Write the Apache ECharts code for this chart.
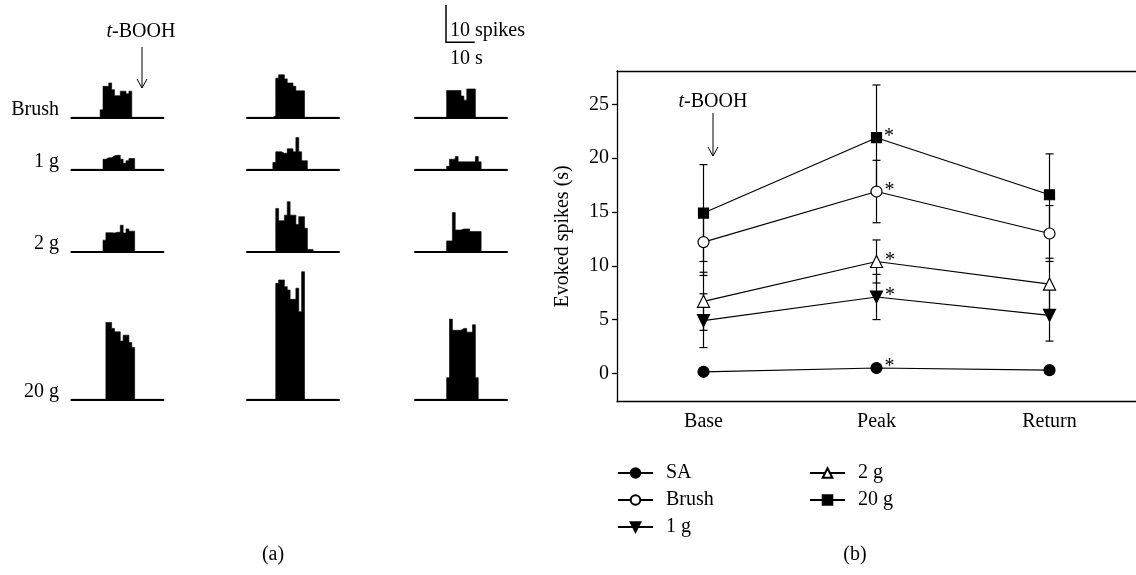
<!DOCTYPE html>
<html>
<head>
<meta charset="utf-8">
<script src="https://cdn.jsdelivr.net/npm/echarts@6/dist/echarts.min.js"></script>
<style>
html, body { margin: 0; padding: 0; background: #fff; }
#main { width: 1136px; height: 575px; }
</style>
</head>
<body>
<div id="main"></div>
<script>
// (a) spike histograms, 1 s bins over 32 s: [first bin, counts per bin]
var histRows = ['Brush', '1 g', '2 g', '20 g'];
var histBrush = [[10, [2, 8.3, 8.3, 9.2, 7.4, 5.8, 5.8, 7, 7, 6.3, 7]],
                 [9, [0.4, 10.5, 11.4, 11.4, 10.3, 9.2, 9.2, 8.3, 7.1, 7.1, 7.1]],
                 [11, [7.2, 7.2, 7.2, 7.2, 7.2, 5.7, 4.6, 7.6, 7.6, 7.6]]];
var hist1g = [[11, [2.7, 3.1, 3.1, 3.6, 3.75, 3.75, 2.7, 1.6, 2.3, 2.9, 2.9]],
              [9, [1.8, 4.7, 4.7, 4.3, 4.3, 5.5, 5.5, 4.7, 8.5, 4.7, 2.3, 2.3]],
              [11, [0.8, 2.7, 2.7, 3.4, 2.0, 2.0, 2.0, 2.0, 2.0, 2.0, 3.4, 2.0]]];
var hist2g = [[11, [3.1, 5.1, 5.1, 5.0, 5.2, 5.2, 7.1, 5.0, 6.1, 5.5, 5.5]],
              [10, [11.6, 8.3, 8.3, 9.8, 13.4, 9.8, 9.8, 7.3, 9.4, 9.4, 6.3, 0.6, 0.6]],
              [11, [2.9, 2.9, 10.5, 5.8, 5.8, 6.1, 6.1, 6.1, 5.4, 5.4, 5.4, 5.4]]];
var hist20g = [[12, [20.6, 20.6, 19, 18.1, 18.1, 15.6, 17.2, 17.2, 15.2, 13.9]],
               [10, [31.1, 32, 32, 30.2, 29.3, 26.8, 26.8, 29.8, 23.5, 34.2]],
               [11, [5.8, 21.5, 18.5, 18.5, 18.5, 19, 19, 18, 18, 20, 5.8]]];
var nBins = 32;

// (b) evoked spikes, mean and error
var phases = ['Base', 'Peak', 'Return'];
var yTicks = [0, 5, 10, 15, 20, 25];
var saMean = [0.15, 0.5, 0.3],     saErr = [0.3, 0.3, 0.3];
var brushMean = [12.2, 16.9, 13.0], brushErr = [3.1, 2.9, 2.6];
var g1Mean = [4.9, 7.1, 5.4],       g1Err = [2.5, 2.1, 2.4];
var g2Mean = [6.7, 10.4, 8.3],      g2Err = [2.7, 2.0, 2.4];
var g20Mean = [14.9, 21.9, 16.6],   g20Err = [4.5, 4.9, 3.8];

var FONT = '"Liberation Serif", "Times New Roman", serif';
var black = '#000';

// histogram layout
var rowBase = [117.3, 169.3, 251.7, 399.3];
var rowMax = [13, 10, 15, 36];
var colLeft = [71.4, 247, 415];
var histW = 92;
var pxPerSpike = 3.73;
var pxPerSec = histW / nBins;

var chart = echarts.init(document.getElementById('main'));

var grids = [{ left: 617, top: 71, right: -4, bottom: 173.3 }];
var xAxes = [
	{
		gridIndex: 0, type: 'category', data: phases,
		axisLine: { onZero: false, lineStyle: { color: black, width: 1.3 } },
		axisTick: { alignWithLabel: true, length: 5, lineStyle: { color: black, width: 1.3 } },
		axisLabel: { fontSize: 20, fontFamily: FONT, color: black, margin: 10 }
	},
	{
		gridIndex: 0, type: 'category', data: phases, position: 'top',
		axisLine: { onZero: false, lineStyle: { color: black, width: 1.3 } },
		axisTick: { show: false }, axisLabel: { show: false }
	}
];
var yAxes = [{
	gridIndex: 0, type: 'value', min: -2.63, max: 28.1,
	splitLine: { show: false },
	axisLine: { show: true, lineStyle: { color: black, width: 1.3 } },
	axisTick: { show: true, length: 5, customValues: yTicks, lineStyle: { color: black, width: 1.3 } },
	axisLabel: { customValues: yTicks, fontSize: 20, fontFamily: FONT, color: black, margin: 8 },
	name: 'Evoked spikes (s)', nameLocation: 'middle', nameGap: 44,
	nameTextStyle: { fontSize: 20, fontFamily: FONT, color: black }
}];
var series = [];
var graphics = [];

var histAll = [histBrush, hist1g, hist2g, hist20g];

histAll.forEach(function (row, r) {
	row.forEach(function (cell, c) {
		var h = rowMax[r] * pxPerSpike;
		grids.push({ left: colLeft[c], width: histW, top: rowBase[r] - h, height: h });
		var gi = grids.length - 1;
		xAxes.push({
			gridIndex: gi, type: 'value', min: 0, max: nBins,
			axisLine: { show: true, onZero: false, lineStyle: { color: black, width: 2 } },
			splitLine: { show: false }, axisTick: { show: false }, axisLabel: { show: false }
		});
		yAxes.push({ gridIndex: gi, type: 'value', min: 0, max: rowMax[r], show: false });
		// step outline: one point per bin edge
		var pts = [];
		for (var b = 0; b <= nBins; b++) {
			var k = b - cell[0];
			var v = (b < nBins && k >= 0 && k < cell[1].length) ? cell[1][k] : 0;
			pts.push([b, v]);
		}
		series.push({
			type: 'line', step: 'end', xAxisIndex: xAxes.length - 1, yAxisIndex: yAxes.length - 1,
			data: pts, symbol: 'none', silent: true, z: 1,
			lineStyle: { color: black, width: 0.6 },
			areaStyle: { color: black, opacity: 1 }
		});
	});
	graphics.push({
		type: 'text', x: 59, y: rowBase[r] - 8,
		style: { text: histRows[r], fontSize: 20, fontFamily: FONT, fill: black, align: 'right', verticalAlign: 'middle' }
	});
});

// (b) line series
var groups = [
	{ name: 'SA', mean: saMean, err: saErr, symbol: 'circle', size: 11, fill: black, rot: 0 },
	{ name: 'Brush', mean: brushMean, err: brushErr, symbol: 'circle', size: 11, fill: '#fff', rot: 0 },
	{ name: '1 g', mean: g1Mean, err: g1Err, symbol: 'triangle', size: 12, fill: black, rot: 180 },
	{ name: '2 g', mean: g2Mean, err: g2Err, symbol: 'triangle', size: 12, fill: '#fff', rot: 0 },
	{ name: '20 g', mean: g20Mean, err: g20Err, symbol: 'rect', size: 10, fill: black, rot: 0 }
];

var errData = [];
groups.forEach(function (g) {
	g.mean.forEach(function (m, i) { errData.push([i, m, g.err[i]]); });
});

series.push({
	type: 'custom', xAxisIndex: 0, yAxisIndex: 0, z: 2, silent: true,
	data: errData,
	renderItem: function (params, api) {
		var x = api.value(0), m = api.value(1), e = api.value(2);
		var lo = api.coord([x, m - e]), hi = api.coord([x, m + e]);
		var w = 4;
		var st = { stroke: black, lineWidth: 1.2 };
		return {
			type: 'group', children: [
				{ type: 'line', shape: { x1: lo[0], y1: lo[1], x2: hi[0], y2: hi[1] }, style: st },
				{ type: 'line', shape: { x1: lo[0] - w, y1: lo[1], x2: lo[0] + w, y2: lo[1] }, style: st },
				{ type: 'line', shape: { x1: hi[0] - w, y1: hi[1], x2: hi[0] + w, y2: hi[1] }, style: st }
			]
		};
	}
});

groups.forEach(function (g) {
	series.push({
		name: g.name, type: 'line', xAxisIndex: 0, yAxisIndex: 0, z: 3,
		symbol: g.symbol, symbolSize: g.size, symbolRotate: g.rot, showAllSymbol: true,
		lineStyle: { color: black, width: 1.2 },
		itemStyle: { color: g.fill, borderColor: black, borderWidth: 1.2, opacity: 1 },
		data: g.mean.map(function (m, i) {
			if (i !== 1) return m;
			// significance mark at Peak
			return { value: m, label: { show: true, formatter: '*', position: 'right', offset: [-3, -1],
				fontSize: 20, fontFamily: FONT, color: black } };
		})
	});
});

function arrow(x, y1, y2) {
	return [
		{ type: 'line', shape: { x1: x, y1: y1, x2: x, y2: y2 }, style: { stroke: black, lineWidth: 1 } },
		{ type: 'polyline', shape: { points: [[x - 5, y2 - 9], [x, y2], [x + 5, y2 - 9]] }, style: { stroke: black, fill: null, lineWidth: 1 } }
	];
}
function label(text, x, y) {
	return {
		type: 'text', x: x, y: y,
		style: { text: text, fontSize: 20, fontFamily: FONT, fill: black, align: 'center', verticalAlign: 'middle',
			rich: { i: { fontStyle: 'italic', fontSize: 20, fontFamily: FONT, fill: black } } }
	};
}

graphics.push(label('{i|t}-BOOH', 141, 32));
graphics = graphics.concat(arrow(142, 47, 88));
graphics.push(label('{i|t}-BOOH', 713, 102));
graphics = graphics.concat(arrow(713, 113, 156));

// scale bar: 10 spikes x 10 s
var sbX = 446, sbY = 42.3;
graphics.push({ type: 'polyline', shape: { points: [[sbX, sbY - 10 * pxPerSpike], [sbX, sbY], [sbX + 10 * pxPerSec, sbY]] },
	style: { stroke: black, fill: null, lineWidth: 1.5 } });
graphics.push({ type: 'text', x: sbX + 4, y: 31, style: { text: '10 spikes', fontSize: 20, fontFamily: FONT, fill: black, verticalAlign: 'middle' } });
graphics.push({ type: 'text', x: sbX + 4, y: 59, style: { text: '10 s', fontSize: 20, fontFamily: FONT, fill: black, verticalAlign: 'middle' } });

graphics.push(label('(a)', 273, 555));
graphics.push(label('(b)', 855, 555));

var legendBase = {
	orient: 'vertical', top: 463, itemWidth: 35, itemHeight: 12, itemGap: 7, padding: 0,
	textStyle: { fontSize: 20, fontFamily: FONT, color: black, padding: [0, 0, 0, 8] }
};

var option = {
	animation: false,
	backgroundColor: '#fff',
	grid: grids,
	xAxis: xAxes,
	yAxis: yAxes,
	legend: [
		Object.assign({}, legendBase, { left: 617, data: ['SA', 'Brush', '1 g'] }),
		Object.assign({}, legendBase, { left: 809, data: ['2 g', '20 g'] })
	],
	graphic: graphics,
	series: series
};
chart.setOption(option);
</script>
</body>
</html>
